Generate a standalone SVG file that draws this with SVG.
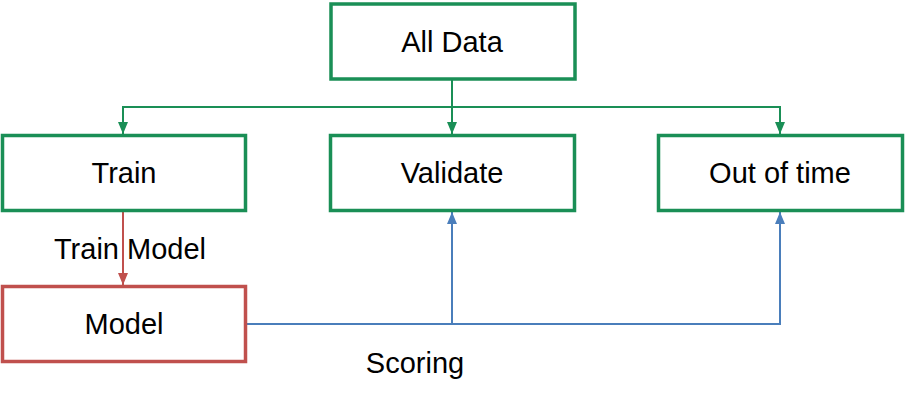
<svg xmlns="http://www.w3.org/2000/svg" width="906" height="400" viewBox="0 0 906 400">
<style>
.box{fill:#fff;stroke-width:3.5}
.g{stroke:#1a8f56}
.r{stroke:#c0504d}
.t{font-family:"Liberation Sans",Arial,sans-serif;font-size:29px;fill:#000;text-anchor:middle}
.c{fill:none;stroke-width:2}
</style>
<defs>
<marker id="ag" markerWidth="12" markerHeight="10" refX="12" refY="5" orient="auto" markerUnits="userSpaceOnUse"><path d="M0,0L12,5L0,10z" fill="#1a8f56"/></marker>
<marker id="ar" markerWidth="12" markerHeight="10" refX="12" refY="5" orient="auto" markerUnits="userSpaceOnUse"><path d="M0,0L12,5L0,10z" fill="#c0504d"/></marker>
<marker id="ab" markerWidth="12" markerHeight="10" refX="12" refY="5" orient="auto" markerUnits="userSpaceOnUse"><path d="M0,0L12,5L0,10z" fill="#4a7ebb"/></marker>
</defs>
<g id="connectors">
<path class="c" stroke="#1a8f56" d="M452,79V107"/>
<path class="c" stroke="#1a8f56" d="M452,107H123V134" marker-end="url(#ag)"/>
<path class="c" stroke="#1a8f56" d="M452,107V134" marker-end="url(#ag)"/>
<path class="c" stroke="#1a8f56" d="M452,107H780V134" marker-end="url(#ag)"/>
<path class="c" stroke="#c0504d" d="M123,211V285" marker-end="url(#ar)"/>
<path class="c" stroke="#4a7ebb" d="M246,324H452V212" marker-end="url(#ab)"/>
<path class="c" stroke="#4a7ebb" d="M452,324H780V212" marker-end="url(#ab)"/>
<text class="t" x="130" y="259">Train Model</text>
<text class="t" x="415" y="373">Scoring</text>
</g>
<g id="all-data"><rect class="box g" x="331" y="4" width="244" height="75"/><text class="t" x="452" y="52">All Data</text></g>
<g id="train"><rect class="box g" x="2.5" y="135.5" width="243" height="75"/><text class="t" x="124" y="183">Train</text></g>
<g id="validate"><rect class="box g" x="330.5" y="135.5" width="244" height="75"/><text class="t" x="452" y="183">Validate</text></g>
<g id="out-of-time"><rect class="box g" x="658.5" y="135.5" width="244" height="75"/><text class="t" x="780" y="183">Out of time</text></g>
<g id="model"><rect class="box r" x="2.5" y="286.5" width="243" height="75"/><text class="t" x="124" y="334">Model</text></g>
</svg>
